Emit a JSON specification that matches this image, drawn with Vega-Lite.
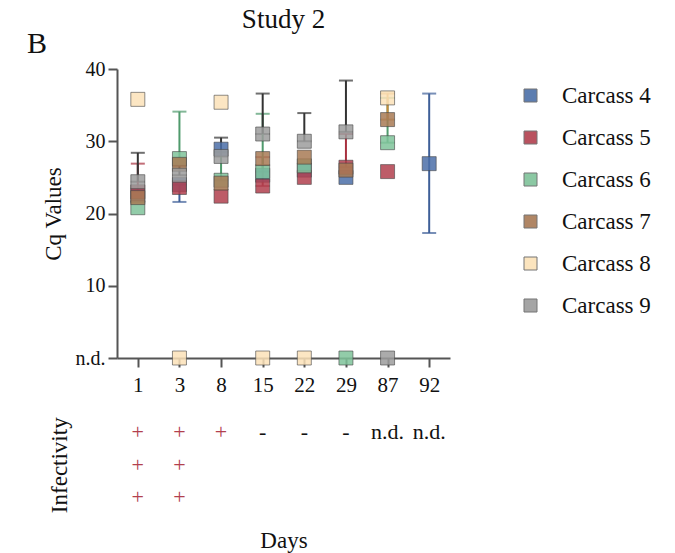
{
  "$schema": "https://vega.github.io/schema/vega-lite/v6.json",
  "padding": {"left": 26, "top": 6, "right": 5, "bottom": 5},
  "config": {
    "font": "Liberation Serif",
    "view": {"stroke": null},
    "axis": {"domainColor": "#555", "tickColor": "#555", "domainWidth": 2, "tickWidth": 2, "labelColor": "#111", "titleColor": "#111", "labelFont": "Liberation Serif", "titleFont": "Liberation Serif", "titleFontWeight": "normal", "grid": false},
    "legend": {"labelFont": "Liberation Serif", "labelColor": "#111"},
    "title": {"font": "Liberation Serif", "fontWeight": "normal", "color": "#111"}
  },
  "title": {"text": "B", "orient": "left", "angle": 0, "anchor": "end", "fontSize": 30, "offset": -25, "baseline": "top", "dy": 23},
  "datasets": {
    "cq": [
      {"carcass": "Carcass 4", "day": 1, "cq": 22.5, "lo": 22.5, "hi": 22.5},
      {"carcass": "Carcass 5", "day": 1, "cq": 23.0, "lo": 23.0, "hi": 26.9},
      {"carcass": "Carcass 6", "day": 1, "cq": 20.8, "lo": 20.8, "hi": 20.8},
      {"carcass": "Carcass 7", "day": 1, "cq": 22.2, "lo": 22.2, "hi": 22.2},
      {"carcass": "Carcass 8", "day": 1, "cq": 35.8, "lo": 35.8, "hi": 35.8},
      {"carcass": "Carcass 9", "day": 1, "cq": 24.4, "lo": 24.4, "hi": 28.4},
      {"carcass": "Carcass 4", "day": 3, "cq": 24.0, "lo": 21.6, "hi": 24.0},
      {"carcass": "Carcass 5", "day": 3, "cq": 23.6, "lo": 23.6, "hi": 23.6},
      {"carcass": "Carcass 6", "day": 3, "cq": 27.6, "lo": 27.6, "hi": 34.1},
      {"carcass": "Carcass 7", "day": 3, "cq": 26.8, "lo": 26.8, "hi": 26.8},
      {"carcass": "Carcass 8", "day": 3, "cq": 0, "lo": 0, "hi": 0},
      {"carcass": "Carcass 9", "day": 3, "cq": 25.3, "lo": 25.3, "hi": 26.6},
      {"carcass": "Carcass 4", "day": 8, "cq": 28.9, "lo": 28.9, "hi": 28.9},
      {"carcass": "Carcass 5", "day": 8, "cq": 22.4, "lo": 22.4, "hi": 22.4},
      {"carcass": "Carcass 6", "day": 8, "cq": 24.6, "lo": 24.6, "hi": 28.5},
      {"carcass": "Carcass 7", "day": 8, "cq": 24.2, "lo": 24.2, "hi": 24.2},
      {"carcass": "Carcass 8", "day": 8, "cq": 35.4, "lo": 35.4, "hi": 35.4},
      {"carcass": "Carcass 9", "day": 8, "cq": 27.9, "lo": 27.9, "hi": 30.5},
      {"carcass": "Carcass 4", "day": 15, "cq": 25.3, "lo": 25.3, "hi": 25.3},
      {"carcass": "Carcass 5", "day": 15, "cq": 23.8, "lo": 23.8, "hi": 27.8},
      {"carcass": "Carcass 6", "day": 15, "cq": 25.8, "lo": 25.8, "hi": 33.8},
      {"carcass": "Carcass 7", "day": 15, "cq": 27.6, "lo": 27.6, "hi": 27.6},
      {"carcass": "Carcass 8", "day": 15, "cq": 0, "lo": 0, "hi": 0},
      {"carcass": "Carcass 9", "day": 15, "cq": 31.0, "lo": 31.0, "hi": 36.6},
      {"carcass": "Carcass 4", "day": 22, "cq": 26.0, "lo": 26.0, "hi": 26.0},
      {"carcass": "Carcass 5", "day": 22, "cq": 25.0, "lo": 25.0, "hi": 25.0},
      {"carcass": "Carcass 6", "day": 22, "cq": 26.6, "lo": 26.6, "hi": 26.6},
      {"carcass": "Carcass 7", "day": 22, "cq": 27.8, "lo": 27.8, "hi": 27.8},
      {"carcass": "Carcass 8", "day": 22, "cq": 0, "lo": 0, "hi": 0},
      {"carcass": "Carcass 9", "day": 22, "cq": 30.0, "lo": 30.0, "hi": 33.9},
      {"carcass": "Carcass 4", "day": 29, "cq": 25.0, "lo": 25.0, "hi": 25.0},
      {"carcass": "Carcass 5", "day": 29, "cq": 26.4, "lo": 26.4, "hi": 31.0},
      {"carcass": "Carcass 6", "day": 29, "cq": 0, "lo": 0, "hi": 0},
      {"carcass": "Carcass 7", "day": 29, "cq": 26.0, "lo": 26.0, "hi": 26.0},
      {"carcass": "Carcass 9", "day": 29, "cq": 31.3, "lo": 31.3, "hi": 38.4},
      {"carcass": "Carcass 5", "day": 87, "cq": 25.8, "lo": 25.8, "hi": 25.8},
      {"carcass": "Carcass 6", "day": 87, "cq": 29.8, "lo": 29.8, "hi": 36.0},
      {"carcass": "Carcass 7", "day": 87, "cq": 33.0, "lo": 33.0, "hi": 36.6},
      {"carcass": "Carcass 8", "day": 87, "cq": 36.0, "lo": 36.0, "hi": 36.0},
      {"carcass": "Carcass 9", "day": 87, "cq": 0, "lo": 0, "hi": 0},
      {"carcass": "Carcass 4", "day": 92, "cq": 26.9, "lo": 17.3, "hi": 36.6}
    ],
    "inf": [
      {"day": 1, "row": 1, "sym": "+"},
      {"day": 1, "row": 2, "sym": "+"},
      {"day": 1, "row": 3, "sym": "+"},
      {"day": 3, "row": 1, "sym": "+"},
      {"day": 3, "row": 2, "sym": "+"},
      {"day": 3, "row": 3, "sym": "+"},
      {"day": 8, "row": 1, "sym": "+"},
      {"day": 15, "row": 1, "sym": "-"},
      {"day": 22, "row": 1, "sym": "-"},
      {"day": 29, "row": 1, "sym": "-"},
      {"day": 87, "row": 1, "sym": "n.d."},
      {"day": 92, "row": 1, "sym": "n.d."}
    ]
  },
  "resolve": {"scale": {"x": "independent", "y": "independent", "color": "independent"}},
  "spacing": 21,
  "vconcat": [
    {
      "title": {"text": "Study 2", "fontSize": 27, "offset": 25, "anchor": "middle"},
      "width": 333,
      "height": 289,
      "data": {"name": "cq"},
      "encoding": {
        "x": {"field": "day", "type": "ordinal", "scale": {"type": "point", "padding": 0.5, "domain": [1, 3, 8, 15, 22, 29, 87, 92]}, "axis": {"title": null, "labelAngle": 0, "labelFontSize": 21, "tickSize": 9, "labelPadding": 7}}
      },
      "resolve": {"scale": {"color": "independent"}},
      "layer": [
        {
          "transform": [{"filter": "datum.hi > datum.lo"}],
          "mark": {"type": "errorbar", "thickness": 2, "ticks": {"size": 14, "thickness": 2}},
          "encoding": {
            "y": {"field": "lo", "type": "quantitative", "scale": {"domain": [0, 40], "nice": false}, "title": "Cq Values"},
            "y2": {"field": "hi"},
            "color": {"field": "carcass", "type": "nominal", "legend": null,
              "scale": {"domain": ["Carcass 4", "Carcass 5", "Carcass 6", "Carcass 7", "Carcass 8", "Carcass 9"], "range": ["#3e5f98", "#a8303f", "#4f9a6c", "#c98a3a", "#d9a860", "#333333"]}}
          }
        },
        {
          "mark": {"type": "square", "size": 196, "filled": true, "fillOpacity": 0.85, "stroke": "#444", "strokeOpacity": 0.6, "strokeWidth": 1},
          "encoding": {
            "y": {"field": "cq", "type": "quantitative", "scale": {"domain": [0, 40], "nice": false},
              "axis": {"values": [0, 10, 20, 30, 40], "labelExpr": "datum.value === 0 ? 'n.d.' : datum.label", "title": "Cq Values", "titleFontSize": 23, "labelFontSize": 20, "tickSize": 9, "labelPadding": 3, "titlePadding": 10}},
            "color": {"field": "carcass", "type": "nominal",
              "scale": {"domain": ["Carcass 4", "Carcass 5", "Carcass 6", "Carcass 7", "Carcass 8", "Carcass 9"], "range": ["#4b6fa8", "#b2404e", "#7fc39a", "#a87a55", "#fbe2b8", "#9c9c9c"]},
              "legend": {"title": null, "symbolType": "square", "symbolSize": 169, "labelFontSize": 23, "labelOffset": 20, "rowPadding": 18, "offset": 54, "padding": 15, "symbolStrokeColor": "#666", "symbolStrokeWidth": 1, "symbolOpacity": 0.9}}
          }
        }
      ]
    },
    {
      "width": 333,
      "height": 97.5,
      "data": {"name": "inf"},
      "mark": {"type": "text", "fontSize": 22, "font": "Liberation Serif"},
      "encoding": {
        "x": {"field": "day", "type": "ordinal", "scale": {"type": "point", "padding": 0.5, "domain": [1, 3, 8, 15, 22, 29, 87, 92]}, "axis": {"title": "Days", "labels": false, "ticks": false, "domain": false, "titleFontSize": 23, "titlePadding": 16}},
        "y": {"field": "row", "type": "ordinal", "scale": {"type": "point", "padding": 0.5}, "axis": {"title": "Infectivity", "labels": false, "ticks": false, "domain": false, "titleFontSize": 23, "titlePadding": 46}},
        "text": {"field": "sym"},
        "color": {"condition": {"test": "datum.sym === '+'", "value": "#b2404e"}, "value": "#111"}
      }
    }
  ]
}
